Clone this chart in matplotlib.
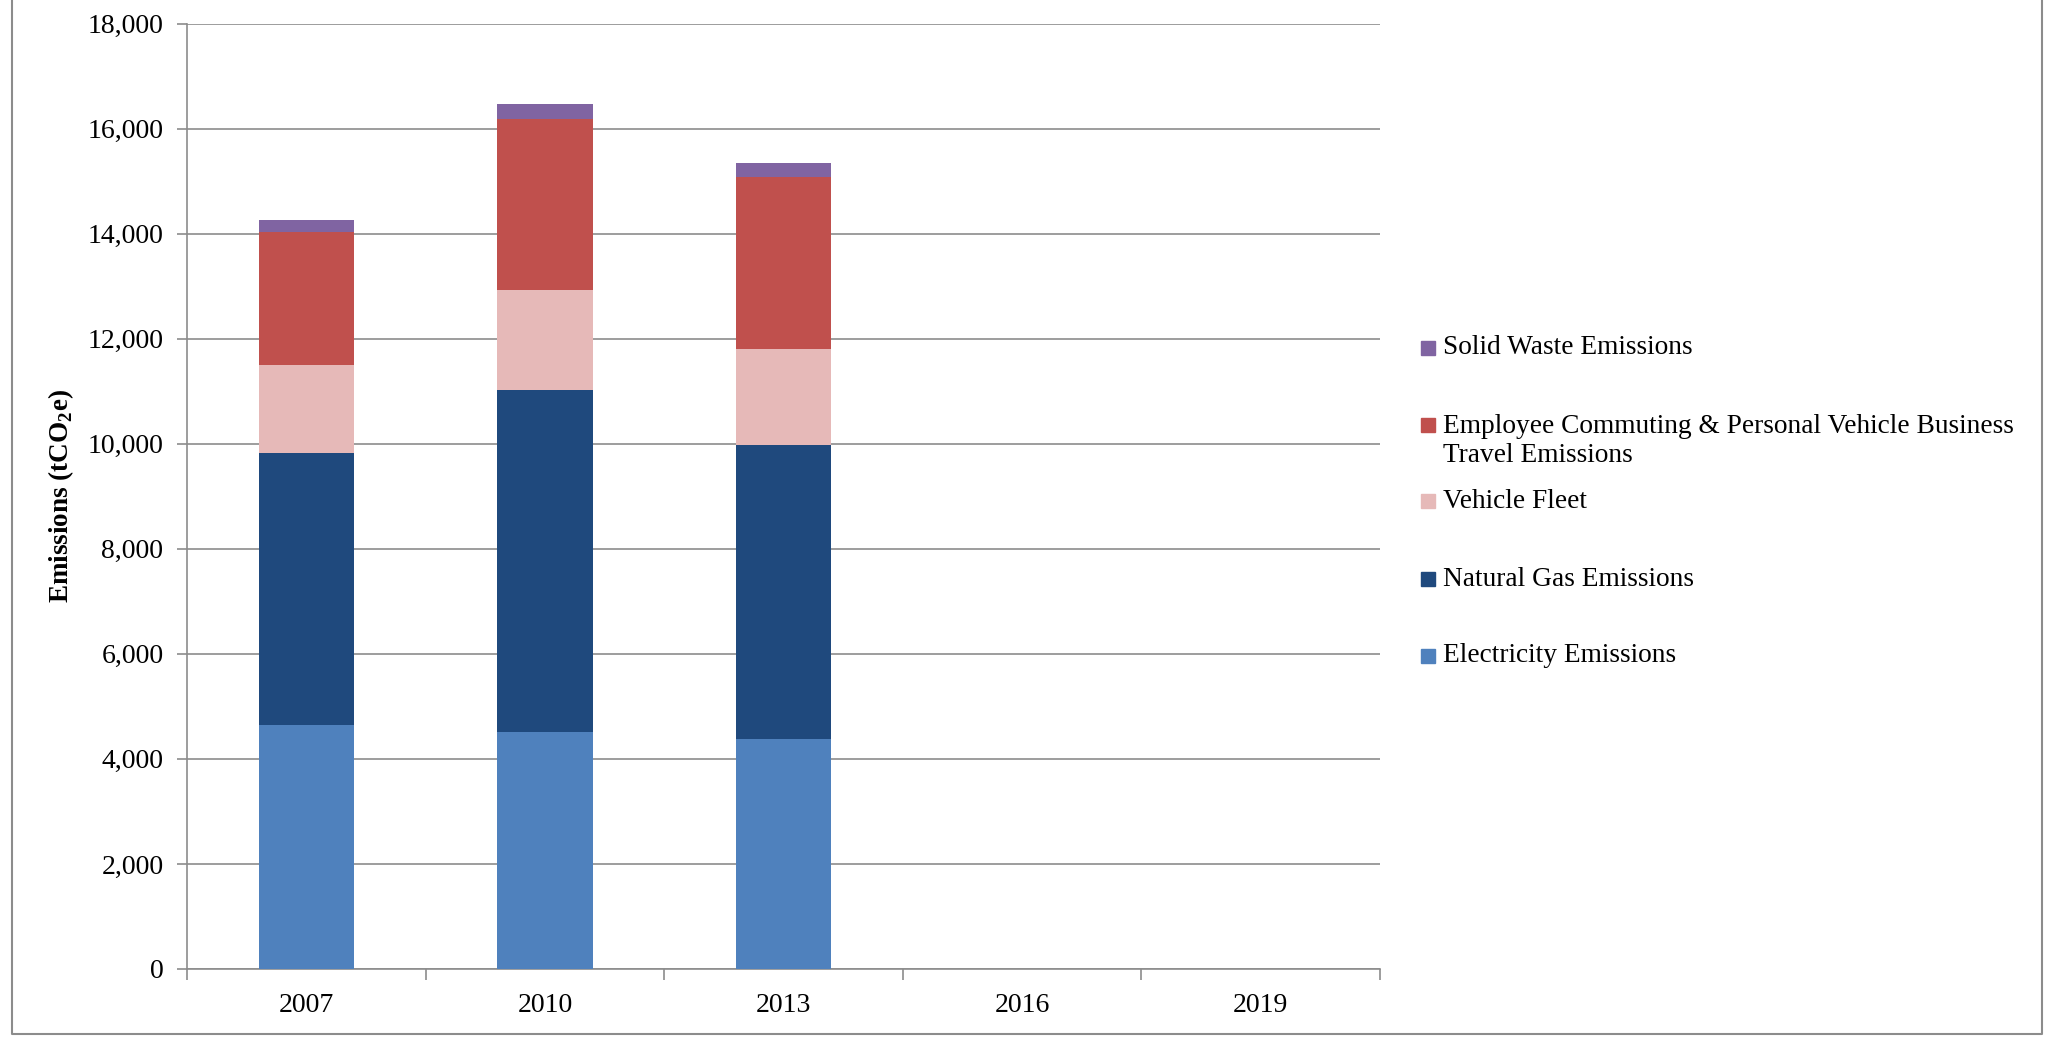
import numpy as np
import matplotlib
matplotlib.use("Agg")
import matplotlib.pyplot as plt
from matplotlib.patches import Rectangle
from matplotlib.lines import Line2D
from matplotlib.ticker import FuncFormatter

plt.rcParams["font.family"] = ["Liberation Serif", "DejaVu Serif"]
plt.rcParams["mathtext.fontset"] = "custom"
plt.rcParams["mathtext.rm"] = "Liberation Serif"
plt.rcParams["mathtext.bf"] = "Liberation Serif:bold"

# --- data (tCO2e); 2016 and 2019 have no data yet ---
years       = ["2007", "2010", "2013", "2016", "2019"]
electricity = [4640, 4520, 4370, np.nan, np.nan]
natural_gas = [5190, 6510, 5610, np.nan, np.nan]
fleet       = [1670, 1890, 1830, np.nan, np.nan]
commuting   = [2525, 3270, 3260, np.nan, np.nan]
solid_waste = [240, 275, 265, np.nan, np.nan]

series = [
    ("Electricity Emissions", electricity, "#4F81BD"),
    ("Natural Gas Emissions", natural_gas, "#1F497D"),
    ("Vehicle Fleet", fleet, "#E6B9B8"),
    ("Employee Commuting & Personal Vehicle Business\nTravel Emissions", commuting, "#C0504D"),
    ("Solid Waste Emissions", solid_waste, "#8064A2"),
]

W, H = 2049, 1037
fig = plt.figure(figsize=(W / 100, H / 100), dpi=100)
ax = fig.add_axes([187 / W, 1 - 969 / H, (1380 - 187) / W, (969 - 23.5) / H])

GRID = "#8C8C8C"
x = np.arange(len(years))
bottom = np.zeros(len(years))
for label, vals, color in series:
    vals = np.array(vals, dtype=float)
    ax.bar(x, vals, width=0.4, bottom=bottom, color=color, zorder=3, linewidth=0)
    bottom = bottom + np.nan_to_num(vals)

ax.set_xlim(-0.5, len(years) - 0.5)
ax.set_ylim(0, 18000)
ax.set_yticks(np.arange(0, 18001, 2000))
ax.yaxis.set_major_formatter(FuncFormatter(lambda v, p: f"{int(v):,}"))
ax.yaxis.grid(True, color=GRID, linewidth=1.2, zorder=0)

# category ticks sit between the years, labels in the middle
ax.set_xticks(np.arange(-0.5, len(years), 1.0))
ax.set_xticklabels([])
ax.set_xticks(x, minor=True)
ax.set_xticklabels(years, minor=True)
ax.tick_params(axis="x", which="minor", length=0, pad=17, labelsize=20)
ax.tick_params(axis="x", which="major", length=8, width=1.2, color=GRID)
ax.tick_params(axis="y", length=7, width=1.2, color=GRID, pad=10, labelsize=20)

for s in ["top", "right"]:
    ax.spines[s].set_visible(False)
for s in ["left", "bottom"]:
    ax.spines[s].set_color(GRID)
    ax.spines[s].set_linewidth(1.2)

ax.set_ylabel(r"Emissions (tCO$_\mathregular{2}$e)", fontsize=19.5, fontweight="bold")
ax.yaxis.set_label_coords((76 - 187) / (1380 - 187), 0.5)

# legend, laid out like the original (top entry first)
legend_y = [348, 425, 501, 579, 656]
for (label, vals, color), yy in zip(series[::-1], legend_y):
    fig.patches.append(Rectangle((1421 / W, 1 - (yy + 7) / H), 14 / W, 14 / H,
                                 transform=fig.transFigure, color=color))
    if "\n" in label:
        fig.text(1443 / W, 1 - (yy - 11) / H, label, fontsize=19.7, va="top",
                 linespacing=1.22, transform=fig.transFigure)
    else:
        fig.text(1443 / W, 1 - yy / H, label, fontsize=19.7, va="center",
                 transform=fig.transFigure)

# outer chart frame (left, bottom, right)
frame_x = [12 / W, 12 / W, 2042 / W, 2042 / W]
frame_y = [1.0, 1 - 1034 / H, 1 - 1034 / H, 1.0]
fig.lines.append(Line2D(frame_x, frame_y, transform=fig.transFigure, color=GRID, linewidth=1.5))

fig.savefig("out.png", dpi=100)
